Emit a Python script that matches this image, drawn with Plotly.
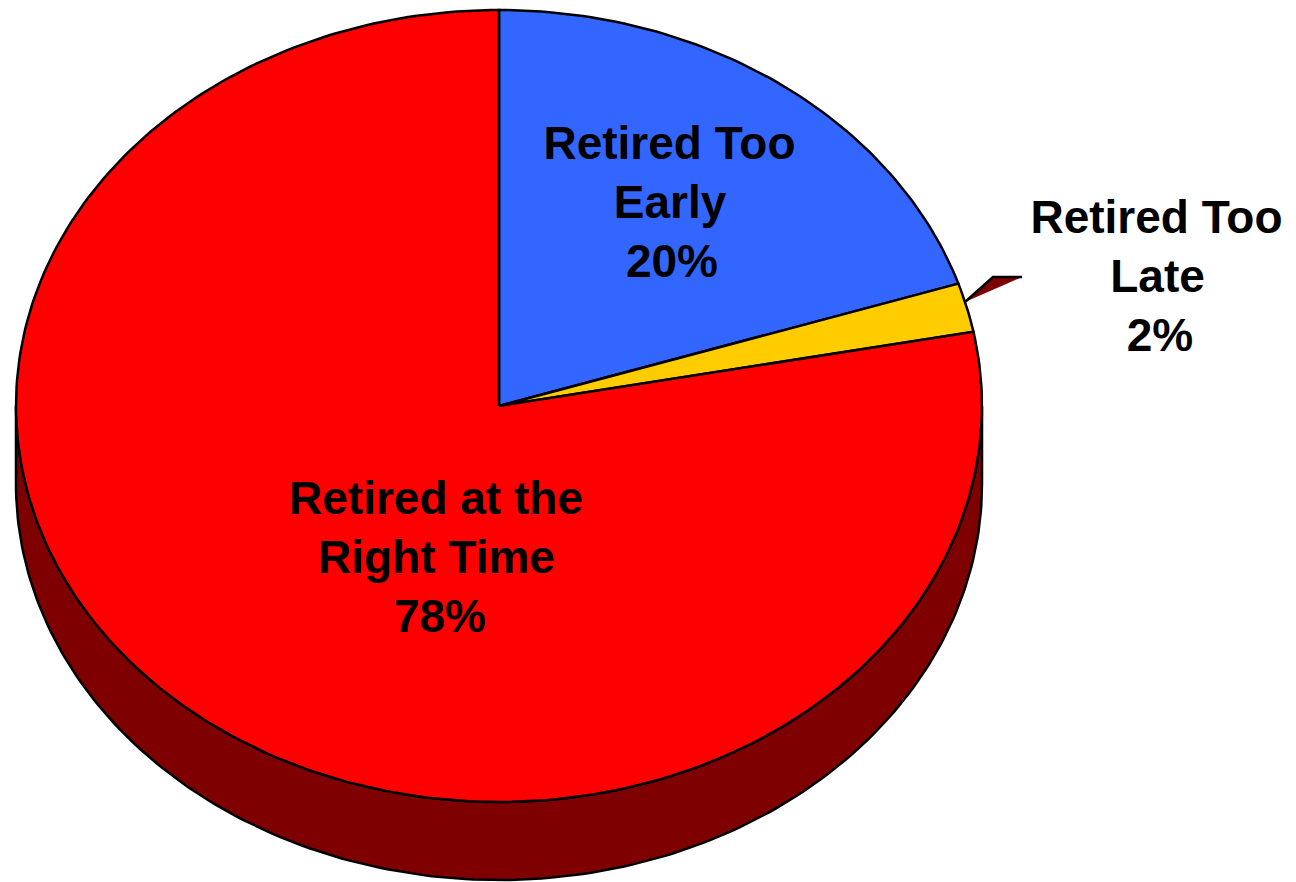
import numpy as np
import plotly.graph_objects as go

# Data
categories = ["Retired Too Early", "Retired Too Late", "Retired at the Right Time"]
values = [20, 2, 78]
slice_colors = ["#3366FF", "#FFCC00", "#FF0000"]
side_color = "#7F0000"
label_text = ["Retired Too", "Early", "20%",
              "Retired Too", "Late", "2%",
              "Retired at the", "Right Time", "78%"]

# Layout of the tilted pie, in axis units equal to screen pixels
W, H = 1296, 882
CX, CY, RX, RY, DEPTH = 499, 406, 483, 396, 78
label_x = [669.5, 670, 672, 1156.5, 1157.5, 1160, 436, 436.5, 440]
label_y = [147, 206, 265, 221, 280, 339, 502, 561, 620]
leader_x = [965, 993, 1022]
leader_y = [302, 277, 277]
OUTLINE = 2.5


def ellipse(theta, dy=0):
    """theta measured clockwise from twelve o'clock, in radians."""
    return CX + RX * np.sin(theta), CY + dy - RY * np.cos(theta)


fig = go.Figure()

# Rim: lower half of the offset ellipse, closed up the two sides
rim = np.linspace(np.pi / 2, 3 * np.pi / 2, 181)
rx, ry = ellipse(rim, DEPTH)
tx, ty = ellipse(rim[::-1])
fig.add_trace(go.Scatter(
    x=np.concatenate([rx, tx, rx[:1]]), y=np.concatenate([ry, ty, ry[:1]]),
    mode="lines", fill="toself", fillcolor=side_color,
    line=dict(color="black", width=OUTLINE), hoverinfo="skip", showlegend=False))

# Slices, computed from the values
total = sum(values)
start = 0.0
for name, val, col in zip(categories, values, slice_colors):
    end = start + val / total * 2 * np.pi
    t = np.linspace(start, end, max(3, int(val * 3.6) + 1))
    ex, ey = ellipse(t)
    fig.add_trace(go.Scatter(
        x=np.concatenate([[CX], ex, [CX]]), y=np.concatenate([[CY], ey, [CY]]),
        mode="lines", fill="toself", fillcolor=col, name=name,
        line=dict(color="black", width=OUTLINE), hoverinfo="name", showlegend=False))
    start = end

# Small leader wedge for the thin slice
fig.add_trace(go.Scatter(
    x=leader_x + leader_x[:1], y=leader_y + leader_y[:1], mode="lines",
    fill="toself", fillcolor=side_color, line=dict(width=0, color=side_color),
    hoverinfo="skip", showlegend=False))
fig.add_trace(go.Scatter(
    x=leader_x, y=leader_y, mode="lines",
    line=dict(color="black", width=OUTLINE), hoverinfo="skip", showlegend=False))

# Labels
fig.add_trace(go.Scatter(
    x=label_x, y=label_y, mode="text", text=label_text, textposition="middle center",
    textfont=dict(family="Liberation Sans", size=46, color="black", weight="bold"),
    hoverinfo="skip", showlegend=False, cliponaxis=False))

fig.update_layout(
    width=W, height=H, margin=dict(l=0, r=0, t=0, b=0),
    paper_bgcolor="white", plot_bgcolor="white",
    xaxis=dict(range=[0, W], visible=False, fixedrange=True),
    yaxis=dict(range=[H, 0], visible=False, fixedrange=True),
)
fig.write_html("out.html", post_script="document.body.style.margin='0';",
               config={"displayModeBar": False})
